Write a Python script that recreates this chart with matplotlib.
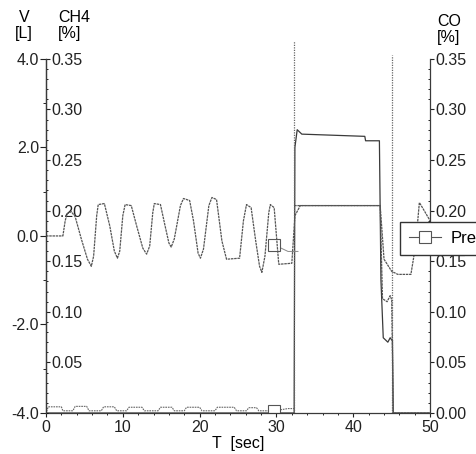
import matplotlib
matplotlib.use('Agg')
import matplotlib.pyplot as plt
from matplotlib.ticker import MultipleLocator, FormatStrFormatter
from matplotlib.lines import Line2D

plt.rcParams['font.family'] = ['Liberation Sans', 'DejaVu Sans']
plt.rcParams['font.size'] = 11.5

# CH4 signal [%]
t_ch4 = [0, 2.2, 2.5, 2.75, 3.3, 3.8, 4.6, 5.4, 5.9, 6.2, 6.6, 6.8, 7.6,
         8.3, 8.9, 9.3, 9.6, 10.0, 10.3, 11.1,
         11.8, 12.6, 13.1, 13.5, 13.9, 14.1, 14.9,
         15.5, 16.0, 16.3, 16.7, 17.5, 17.9, 18.7,
         19.2, 19.8, 20.1, 20.5, 21.2, 21.6, 22.2,
         22.9, 23.5, 25.2, 25.7, 26.1, 26.7,
         27.3, 27.8, 28.1, 28.5, 29.0, 29.2, 29.7, 30.0, 30.3, 32.0,
         32.4, 33.1, 43.5, 43.8, 44.4, 44.8, 45.0, 45.2, 50.0]
ch4 = [0.175, 0.175, 0.190, 0.197, 0.199, 0.194, 0.172, 0.152, 0.145, 0.155, 0.195, 0.206, 0.207,
       0.185, 0.160, 0.153, 0.160, 0.195, 0.206, 0.205,
       0.185, 0.163, 0.157, 0.165, 0.198, 0.207, 0.206,
       0.185, 0.168, 0.164, 0.172, 0.205, 0.212, 0.210,
       0.190, 0.158, 0.153, 0.162, 0.205, 0.213, 0.211,
       0.170, 0.152, 0.153, 0.190, 0.206, 0.203,
       0.170, 0.145, 0.139, 0.155, 0.198, 0.206, 0.203, 0.175, 0.147, 0.148,
       0.195, 0.205, 0.205, 0.113, 0.110, 0.116, 0.112, 0.0, 0.0]

# CO signal [%]
t_co = [32.3, 32.5, 43.5, 44.0, 45.0, 45.8, 47.5, 48.1, 48.6, 49.0, 50.0]
co = [0.205, 0.205, 0.205, 0.152, 0.140, 0.137, 0.137, 0.165, 0.208, 0.203, 0.19]

# V [L]
t_v = [0, 32.3, 32.4, 32.7, 33.3, 41.5, 41.6, 43.4, 43.6, 43.9, 44.5, 44.8, 45.0,
       45.1, 45.2, 50]
v = [-4.0, -4.0, 2.0, 2.4, 2.3, 2.25, 2.15, 2.15, -1.0, -2.3, -2.4, -2.3, -2.35,
     -2.35, -4.0, -4.0]

# Pre (bottom trace with small bumps)
t_pre = [0, 0.1, 0.3, 2.0, 2.2, 3.5, 3.8, 5.3, 5.6, 7.2, 7.5, 8.9, 9.2, 10.5, 10.8,
         12.5, 12.8, 14.6, 14.9, 16.4, 16.7, 18.0, 18.3, 20.0, 20.3, 22.0, 22.3,
         24.5, 24.8, 26.1, 26.4, 27.4, 27.7, 29.7, 31.5, 32.3]
pre = [-3.95, -3.95, -3.86, -3.86, -3.95, -3.95, -3.85, -3.85, -3.95, -3.95, -3.86,
       -3.86, -3.95, -3.95, -3.87, -3.87, -3.95, -3.95, -3.87, -3.87, -3.95, -3.95,
       -3.87, -3.87, -3.95, -3.95, -3.87, -3.87, -3.95, -3.95, -3.88, -3.88, -3.95,
       -3.95, -3.90, -3.90]

fig = plt.figure(figsize=(4.76, 4.54), dpi=100)
ax = fig.add_axes([0.0966, 0.0903, 0.807, 0.780])
ax_ch4 = ax.twinx()
ax_co = ax.twinx()

line_c = '#3a3a3a'

# V axis on the left
ax.set_xlim(0, 50)
ax.set_ylim(-4, 4)
ax.yaxis.set_major_locator(MultipleLocator(2))
ax.yaxis.set_minor_locator(MultipleLocator(1))
ax.yaxis.set_major_formatter(FormatStrFormatter('%.1f'))
ax.xaxis.set_major_locator(MultipleLocator(10))
ax.xaxis.set_minor_locator(MultipleLocator(2))
ax.tick_params(axis='y', which='major', direction='out', length=4, pad=1)
ax.tick_params(axis='y', which='minor', direction='out', length=2)
ax.tick_params(axis='x', which='major', direction='out', length=3, pad=2)
ax.tick_params(axis='x', which='minor', direction='out', length=1.5)
ax.spines['top'].set_visible(False)
ax.spines['right'].set_visible(False)
ax.set_xlabel('T  [sec]', labelpad=1)

# CH4 axis on the same left spine, labels inside
ax_ch4.set_ylim(0, 0.35)
ax_ch4.spines['right'].set_position(('axes', 0))
for s in ['top', 'left', 'bottom']:
    ax_ch4.spines[s].set_visible(False)
ax_ch4.set_yticks([0.05, 0.10, 0.15, 0.20, 0.25, 0.30, 0.35])
ax_ch4.yaxis.set_minor_locator(MultipleLocator(0.01))
ax_ch4.yaxis.set_major_formatter(FormatStrFormatter('%.2f'))
ax_ch4.tick_params(axis='y', which='major', direction='out', length=3, pad=1)
ax_ch4.tick_params(axis='y', which='minor', direction='out', length=1.5)

# CO axis on the right
ax_co.set_ylim(0, 0.35)
for s in ['top', 'left', 'bottom']:
    ax_co.spines[s].set_visible(False)
ax_co.yaxis.set_major_locator(MultipleLocator(0.05))
ax_co.yaxis.set_minor_locator(MultipleLocator(0.01))
ax_co.yaxis.set_major_formatter(FormatStrFormatter('%.2f'))
ax_co.tick_params(axis='y', which='major', direction='out', length=3, pad=1)
ax_co.tick_params(axis='y', which='minor', direction='in', length=1.5)

for a in (ax, ax_ch4, ax_co):
    for s in a.spines.values():
        s.set_color(line_c)
        s.set_linewidth(0.9)
    a.tick_params(colors='#222222', width=0.8)

# traces
ax.plot(t_v, v, color=line_c, lw=0.9)
ax.plot(t_pre, pre, color='#666666', lw=0.8, ls=(0, (1.5, 0.8)),
        marker='s', markevery=[33], ms=9, mfc='white', mec='#555555', mew=0.8)
ax_ch4.plot(t_ch4, ch4, color='#555555', lw=0.9, ls=(0, (2, 0.6)))
ax_co.plot(t_co, co, color='#555555', lw=0.9, ls=(0, (2, 0.6)))

# second Pre marker on the CH4 trace
ax.plot([29.7, 31.5, 32.8], [-0.2, -0.35, -0.35], color='#888888', lw=0.7,
        marker='s', markevery=[0], ms=9, mfc='white', mec='#555555', mew=0.8)

# tall dotted event lines
for x0, top in [(32.3, 1.05), (45.1, 1.01)]:
    ax.add_line(Line2D([x0, x0], [0, top], transform=ax.get_xaxis_transform(),
                       color='#666666', lw=0.9, ls=(0, (1, 1)), clip_on=False))

# axis titles
fig.text(24 / 476, 1 - 10 / 454, 'V\n[L]', ha='center', va='top', linespacing=1.05)
fig.text(58 / 476, 1 - 10 / 454, 'CH4\n[%]', ha='left', va='top', linespacing=1.05)
fig.text(437 / 476, 1 - 14 / 454, 'CO\n[%]', ha='left', va='top', linespacing=1.05)

# legend, partly cut by the figure edge
handle = Line2D([], [], color='#555555', lw=0.8, marker='s', ms=9,
                mfc='white', mec='#555555', mew=0.8)
fig.legend([handle], ['Pre'], loc='upper left', bbox_to_anchor=(400 / 476, 1 - 222 / 454),
           borderaxespad=0, fancybox=False, edgecolor='#333333', framealpha=1,
           handlelength=1.9, handletextpad=0.6, borderpad=0.55, fontsize=12)

fig.savefig('out.png', dpi=100)
